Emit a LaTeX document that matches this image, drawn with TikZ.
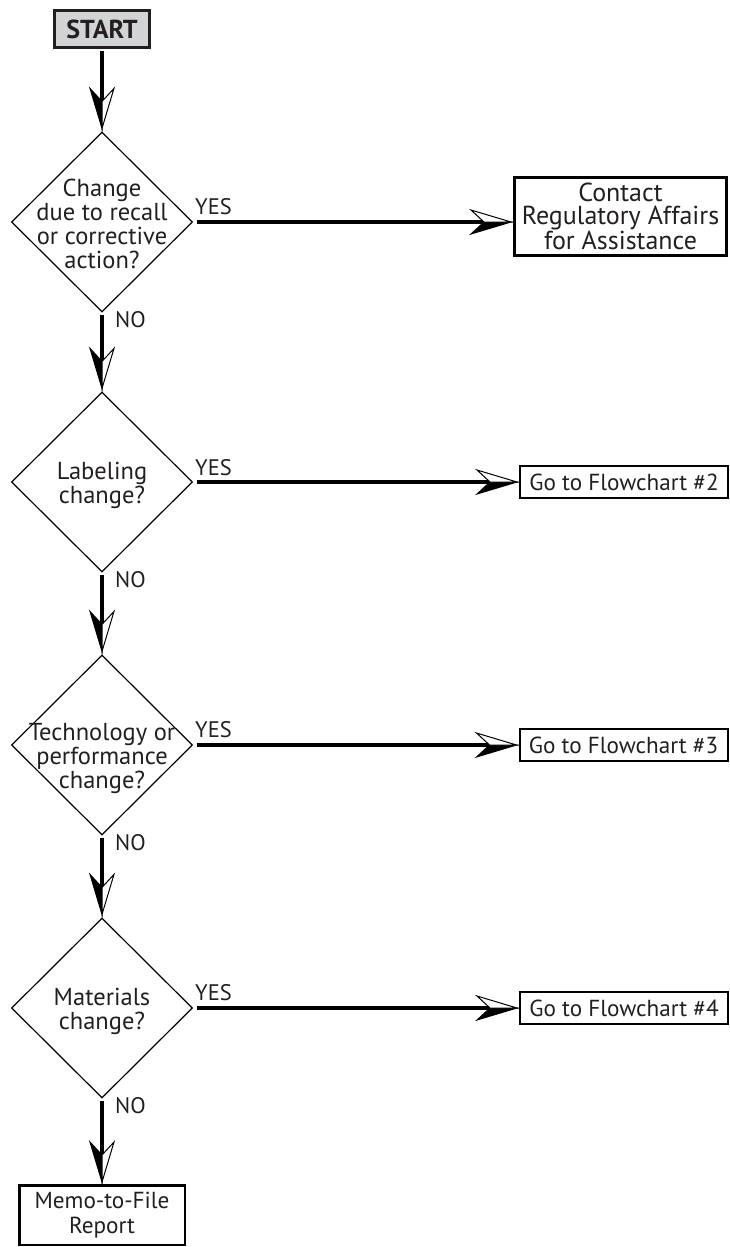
\documentclass[tikz,border=0pt]{standalone}
\usepackage{fontspec}
\setmainfont{PT Sans}
\usetikzlibrary{shapes.geometric}
\definecolor{txt}{HTML}{231F20}
\definecolor{startfill}{HTML}{D1D3D4}
\newcommand\myfs{\fontsize{22.5}{24}\selectfont}
\newcommand\diafs{\fontsize{24.5}{24}\selectfont}
\newcommand\gofs{\fontsize{23.2}{25}\selectfont}
\newcommand\bigfs{\fontsize{26}{23.5}\selectfont}

\pgfdeclarearrow{
  name=Split,
  setup code={
    \pgfarrowssettipend{0pt}
    \pgfarrowssetlineend{-25pt}
    \pgfarrowssetbackend{-40pt}
    \pgfarrowsupperhullpoint{0pt}{0pt}
    \pgfarrowsupperhullpoint{-40pt}{12pt}
  },
  drawing code={
    \pgfsetlinewidth{1pt}
    \pgfsetmiterjoin
    \pgfsetfillcolor{black}
    \pgfpathmoveto{\pgfpointorigin}
    \pgfpathlineto{\pgfpoint{-40pt}{-12pt}}
    \pgfpathlineto{\pgfpoint{-27pt}{0pt}}
    \pgfpathclose
    \pgfusepathqfillstroke
    \pgfsetfillcolor{white}
    \pgfpathmoveto{\pgfpointorigin}
    \pgfpathlineto{\pgfpoint{-40pt}{12pt}}
    \pgfpathlineto{\pgfpoint{-27pt}{0pt}}
    \pgfpathclose
    \pgfusepathqfillstroke
  }
}

\tikzset{
  every node/.style={text=txt, font=\myfs},
  startbox/.style={draw=txt, fill=startfill, line width=3pt, minimum width=95pt, minimum height=37pt, inner sep=0pt, font=\fontsize{26}{26}\selectfont\bfseries},
  dia/.style={draw=black, shape=diamond, line width=1.2pt, minimum width=181pt, minimum height=180pt, inner sep=0pt},
  dtext/.style={align=center, inner sep=0pt, font=\diafs},
  gobox/.style={draw=black, line width=2pt, minimum width=208pt, minimum height=32pt, inner sep=0pt, font=\gofs},
  bigbox/.style={draw=black, line width=3pt, minimum width=212pt, minimum height=78pt, inner sep=0pt, align=center, font=\bigfs},
  memobox/.style={draw=black, line width=2.5pt, minimum width=165.5pt, minimum height=59.5pt, inner sep=0pt, align=center, font=\gofs},
  lbl/.style={inner sep=0pt, anchor=base west},
  flow/.style={draw=black, line width=4pt, -Split},
}

\begin{document}
\begin{tikzpicture}[x=1pt, y=-1pt]
\useasboundingbox (0,0) rectangle (730,1247);

\node[startbox] (start) at (102,29) {START};

\node[dia] (d1) at (102,222) {};
\node[dtext] (t1) at (102,223.5) {Change\\due to recall\\or corrective\\action?};
\node[dia] (d2) at (102,482) {};
\node[dtext] (t2) at (102,485) {Labeling\\change?};
\node[dia] (d3) at (102,745) {};
\node[dtext] (t3) at (102,759) {Technology or\\performance\\change?};
\node[dia] (d4) at (102,1008) {};
\node[dtext] (t4) at (102,1011) {Materials\\change?};

\node[bigbox] (contact) at (620.5,216.5) {Contact\\Regulatory Affairs\\for Assistance};
\node[gobox] (g2) at (624,482) {Go to Flowchart \#2};
\node[gobox] (g3) at (623.5,745) {Go to Flowchart \#3};
\node[gobox] (g4) at (624,1008) {Go to Flowchart \#4};
\node[memobox] (memo) at (102,1215) {Memo-to-File\\Report};

\node[lbl] (y1) at (195,214) {YES};
\node[lbl] (y2) at (195,475) {YES};
\node[lbl] (y3) at (195,737) {YES};
\node[lbl] (y4) at (195,1000) {YES};
\node[lbl] (n1) at (115,327) {NO};
\node[lbl] (n2) at (115,587) {NO};
\node[lbl] (n3) at (115,850) {NO};
\node[lbl] (n4) at (115,1113) {NO};

\draw[flow, shorten <=2pt, shorten >=3pt] (start.south) -- (d1.north);
\draw[flow, shorten <=2pt, shorten >=3pt] (d1.south) -- (d2.north);
\draw[flow, shorten <=2pt, shorten >=3pt] (d2.south) -- (d3.north);
\draw[flow, shorten <=2pt, shorten >=3pt] (d3.south) -- (d4.north);
\draw[flow, shorten <=2pt, shorten >=2pt] (d4.south) -- (memo.north);

\draw[flow, shorten <=4pt, shorten >=2pt] (d1.east) -- (d1.east -| contact.west);
\draw[flow, shorten <=4pt, shorten >=2pt] (d2.east) -- (g2.west);
\draw[flow, shorten <=4pt, shorten >=2pt] (d3.east) -- (g3.west);
\draw[flow, shorten <=4pt, shorten >=2pt] (d4.east) -- (g4.west);
\end{tikzpicture}
\end{document}
